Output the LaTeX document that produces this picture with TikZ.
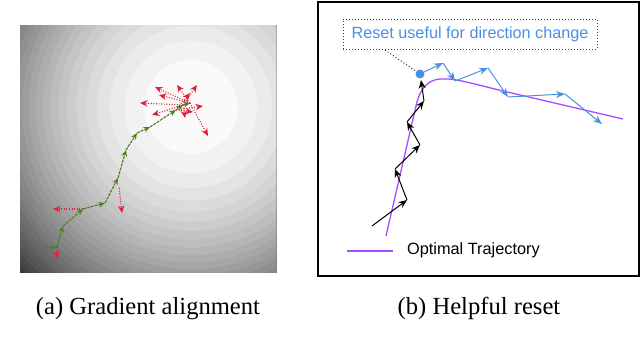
\documentclass[tikz,border=0pt]{standalone}
\usepackage{fontspec}
\setmainfont{Liberation Serif}
\newfontfamily\arialf{Liberation Sans}
\usetikzlibrary{arrows.meta}
\definecolor{gbar}{HTML}{4E7F1F}
\definecolor{rarr}{HTML}{E0203A}
\definecolor{barr}{HTML}{4A90E2}
\definecolor{ptraj}{HTML}{A64DFF}
\begin{document}
\begin{tikzpicture}[x=1pt,y=-1pt,
  garrow/.style={draw=gbar, line width=1.1pt, dash pattern=on 3pt off 1pt, -{Stealth[length=6.5pt,width=5.5pt]}},
  rarrow/.style={draw=rarr, line width=1.1pt, dash pattern=on 1pt off 1.6pt, -{Stealth[length=7.5pt,width=6.5pt]}},
  karrow/.style={draw=black, line width=1pt, -{Stealth[length=8.5pt,width=7pt]}},
  barrow/.style={draw=barr, line width=1pt, -{Stealth[length=9pt,width=7pt]}},
  capt/.style={font=\fontsize{24.6}{28}\selectfont, anchor=base},
]
\useasboundingbox (0,0) rectangle (640,352);
% ---------- left panel: loss landscape ----------
\begin{scope}
  \clip (20,26) rectangle (276,273);
  \foreach \k in {27,26,...,0} {
    \pgfmathsetmacro\rad{239*sqrt(3*(\k+1)/78)}
    \pgfmathsetmacro\pc{3*\k+2}
    \fill[black!\pc] (191,107) circle[radius=\rad pt];
  }
\end{scope}
% green trajectory
\coordinate (g0) at (43,248);
\coordinate (g1) at (57,247);
\coordinate (g2) at (63,226);
\coordinate (g3) at (83,209);
\coordinate (g4) at (105,203);
\coordinate (g5) at (118,178);
\coordinate (g6) at (126,150);
\coordinate (g7) at (137,133);
\coordinate (g8) at (150,127);
\coordinate (g9) at (176,110);
\coordinate (g10) at (183,105);
\coordinate (g11) at (190,103);
% red gradient directions
\coordinate (r1) at (57,259);
\coordinate (r2) at (53,209);
\coordinate (r3) at (122,213);
\coordinate (r4) at (155,87);
\coordinate (r5) at (177,85);
\coordinate (r6) at (197,85);
\coordinate (r7) at (190,93);
\coordinate (r8) at (159,95);
\coordinate (r9) at (140,103);
\coordinate (r10) at (152,115);
\coordinate (r11) at (185,118);
\coordinate (r12) at (193,112);
\coordinate (r13) at (203,106);
\coordinate (r14) at (208,136);
\foreach \a/\b in {g1/r1,g3/r2,g11/r4,g11/r5,g10/r6,g9/r7,g11/r8,g10/r9,g11/r10,g10/r11,g9/r12,g9/r13,g11/r14}
  \draw[rarrow] (\a) -- (\b);
\draw[rarrow, shorten <=10pt] (g5) -- (r3);
\foreach \a/\b in {g0/g1,g1/g2,g2/g3,g3/g4,g4/g5,g5/g6,g6/g7,g7/g8,g8/g9,g9/g10,g10/g11}
  \draw[garrow] (\a) -- (\b);
\node[capt] (capa) at (148,315) {(a) Gradient alignment};
% ---------- right panel ----------
\draw[line width=1.5pt] (318,2) rectangle (639,276);
\draw[ptraj, line width=1.3pt] (386,236) -- (416,106) .. controls (420,88) and (428,80) .. (440,79)
  .. controls (455,78) and (470,83) .. (503,91) -- (623,119);
\node[draw=black!75, line width=0.9pt, dash pattern=on 1pt off 2pt, minimum width=254pt, minimum height=30pt,
  inner sep=0pt, text=barr, font=\arialf\fontsize{16.2}{19}\selectfont] (lbl) at (470,34) {Reset useful for direction change};
\node[circle, fill=barr, minimum size=9pt, inner sep=0pt] (dot) at (420,74) {};
\coordinate (lead) at (385,50);
\draw[black!80, line width=1pt, dash pattern=on 1pt off 2.2pt] (lead) -- (dot);
% black momentum steps
\coordinate (k0) at (372,226);
\coordinate (k1) at (407,200);
\coordinate (k2) at (395,169);
\coordinate (k3) at (420,145);
\coordinate (k4) at (407,122);
\coordinate (k5) at (424,101);
\coordinate (k6) at (421,80);
\foreach \a/\b in {k0/k1,k1/k2,k2/k3,k3/k4,k4/k5,k5/k6}
  \draw[karrow] (\a) -- (\b);
% blue steps after reset
\coordinate (b1) at (443,63);
\coordinate (b2) at (455,81);
\coordinate (b3) at (488,68);
\coordinate (b4) at (508,97);
\coordinate (b5) at (565,94);
\coordinate (b6) at (602,124);
\draw[barrow] (dot) -- (b1);
\foreach \a/\b in {b1/b2,b2/b3,b3/b4,b4/b5,b5/b6}
  \draw[barrow] (\a) -- (\b);
% legend
\coordinate (la) at (347,251);
\coordinate (lb) at (393,251);
\draw[ptraj, line width=1.3pt] (la) -- (lb);
\node[font=\arialf\fontsize{16.3}{19}\selectfont, anchor=base west, inner sep=0pt] (leg) at (407,255) {Optimal Trajectory};
\node[capt] (capb) at (479,315) {(b) Helpful reset};
\end{tikzpicture}
\end{document}
